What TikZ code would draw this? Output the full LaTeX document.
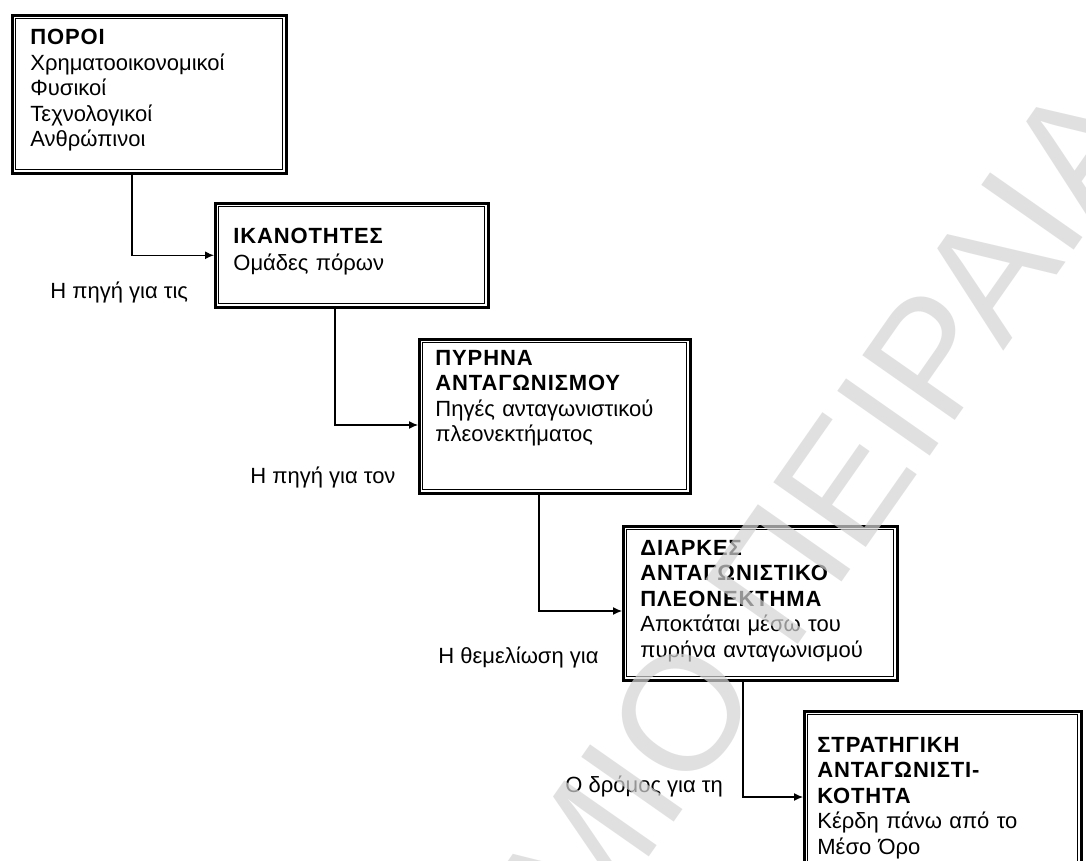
\documentclass[tikz,border=0pt]{standalone}
\usepackage{fontspec}
\setmainfont{Liberation Sans}[BoldFeatures={LetterSpace=4}]
\usetikzlibrary{arrows.meta}

\begin{document}
\begin{tikzpicture}[x=0.5pt,y=-0.5pt,
  box/.style={draw, line width=1.3pt, inner sep=0pt, anchor=north west,
    path picture={\draw[line width=0.5pt]
      ([xshift=1.75pt,yshift=-1.75pt]path picture bounding box.north west) rectangle
      ([xshift=-1.75pt,yshift=1.75pt]path picture bounding box.south east);}},
  txt/.style={anchor=base west, inner sep=0pt, align=left, text width=135pt,
    font=\fontsize{11}{12.75}\selectfont},
  lbl/.style={anchor=base west, inner sep=0pt, font=\fontsize{11}{12.75}\selectfont},
  conn/.style={line width=0.6pt, -{Latex[length=4.5pt,width=4pt]}},
  wmark/.style={text=black!17, opacity=0.7, font=\fontsize{82}{84}\selectfont}
]
\useasboundingbox (0,0) rectangle (1086,861);
\fill[white] (0,0) rectangle (1086,861);
\clip (0,0) rectangle (1086,861);

% boxes
\node[box, minimum width=137pt,   minimum height=79pt] (b1) at (11,14) {};
\node[box, minimum width=136.5pt, minimum height=52pt] (b2) at (214,202) {};
\node[box, minimum width=135.5pt, minimum height=77pt] (b3) at (418,338) {};
\node[box, minimum width=137pt,   minimum height=77pt] (b4) at (622,525) {};
\node[box, minimum width=138.5pt, minimum height=105pt] (b5) at (803,710) {};

% box contents
\node[txt] (t1) at (30,45) {\textbf{ΠΟΡΟΙ}\\Χρηματοοικονομικοί\\Φυσικοί\\Τεχνολογικοί\\Ανθρώπινοι};
\node[txt] (t2) at (233,243) {\textbf{ΙΚΑΝΟΤΗΤΕΣ}\\[1pt]Ομάδες πόρων};
\node[txt] (t3) at (435,365) {\textbf{ΠΥΡΗΝΑ}\\\textbf{ΑΝΤΑΓΩΝΙΣΜΟΥ}\\Πηγές ανταγωνιστικού\\πλεονεκτήματος};
\node[txt] (t4) at (640,555) {\textbf{ΔΙΑΡΚΕΣ}\\\textbf{ΑΝΤΑΓΩΝΙΣΤΙΚΟ}\\\textbf{ΠΛΕΟΝΕΚΤΗΜΑ}\\Αποκτάται μέσω του\\πυρήνα ανταγωνισμού};
\node[txt] (t5) at (817,752) {\textbf{ΣΤΡΑΤΗΓΙΚΗ}\\\textbf{ΑΝΤΑΓΩΝΙΣΤΙ-}\\\textbf{ΚΟΤΗΤΑ}\\Κέρδη πάνω από το\\Μέσο Όρο};

% connectors
\draw[conn] ([xshift=60.5pt]b1.south west) |- (b2.west);
\draw[conn] ([xshift=60.5pt]b2.south west) |- ([yshift=-43.5pt]b3.north west);
\draw[conn] ([xshift=60.5pt]b3.south west) |- ([yshift=-43pt]b4.north west);
\draw[conn] ([xshift=60.5pt]b4.south west) |- ([yshift=-43.5pt]b5.north west);

% connector labels
\node[lbl] (l1) at (50,299) {Η πηγή για τις};
\node[lbl] (l2) at (250,483) {Η πηγή για τον};
\node[lbl] (l3) at (438,663) {Η θεμελίωση για};
\node[lbl] (l4) at (565,792) {Ο δρόμος για τη};

% watermark
\node[wmark, rotate=55, anchor=base east, inner sep=0pt] (wm) at (1155,135) {ΠΑΝΕΠΙΣΤΗΜΙΟ ΠΕΙΡΑΙΑ};
\end{tikzpicture}
\end{document}
